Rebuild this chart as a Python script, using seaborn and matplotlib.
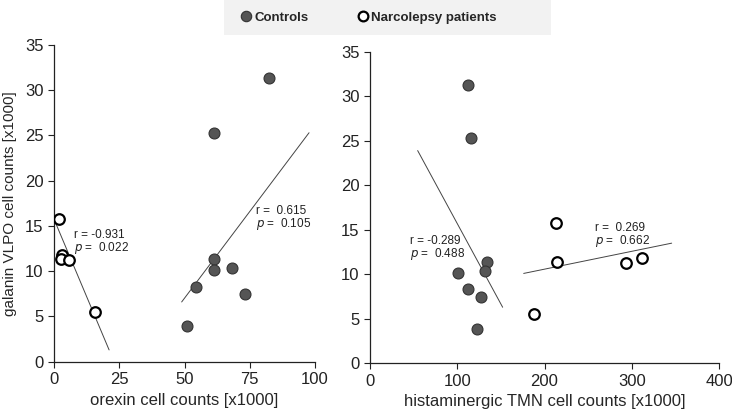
import numpy as np
import pandas as pd
import matplotlib
matplotlib.use("Agg")
import matplotlib.pyplot as plt
import seaborn as sns
from matplotlib.lines import Line2D
from matplotlib.patches import Rectangle

# Controls (filled) - same subjects in both panels
ctrl_vlpo = [31.3, 25.3, 11.4, 10.4, 10.1, 8.3, 7.45, 3.9]
ctrl_orexin = [82.5, 61.3, 61.3, 68.1, 61.3, 54.5, 73.2, 51.0]
ctrl_tmn = [112.0, 115.8, 134.5, 131.8, 100.5, 112.3, 127.6, 122.2]

# Narcolepsy patients (open)
narc_vlpo = [15.75, 11.8, 11.35, 11.25, 5.5]
narc_orexin = [1.8, 3.2, 2.8, 5.7, 15.7]
narc_tmn = [212.8, 311.4, 214.7, 293.0, 187.6]

# fitted lines: [x_start, x_end], [y_start, y_end]
fit_orexin_narc = ([0.8, 21.1], [15.2, 1.3])
fit_orexin_ctrl = ([48.9, 97.7], [6.6, 25.3])
fit_tmn_ctrl = ([54.6, 152.0], [23.9, 6.3])
fit_tmn_narc = ([176.1, 345.7], [10.1, 13.5])

# stats labels
stats_orexin = [("-0.931", "0.022"), ("0.615", "0.105")]
stats_tmn = [("-0.289", "0.488"), ("0.269", "0.662")]

sns.set_style("ticks")
plt.rcParams["font.family"] = ["Liberation Sans", "DejaVu Sans"]

fill_col = "#555555"

fig = plt.figure(figsize=(7.32, 4.11), dpi=100)
ax1 = fig.add_axes([0.0738, 0.120, 0.3566, 0.7706])
ax2 = fig.add_axes([0.5055, 0.116, 0.4768, 0.758])


def draw_panel(ax, x_ctrl, x_narc, fits, stats, stat_pos, xlim, xticks, xlabel):
    for fx, fy in fits:
        sns.lineplot(x=fx, y=fy, ax=ax, color="#444444", lw=0.7)
    sns.scatterplot(x=x_ctrl, y=ctrl_vlpo, ax=ax, s=62, color=fill_col,
                    edgecolor="#333333", linewidth=0.8, zorder=3)
    sns.scatterplot(x=x_narc, y=narc_vlpo, ax=ax, s=58, color="white",
                    edgecolor="black", linewidth=1.6, zorder=3)
    for (r, p), (tx, ty) in zip(stats, stat_pos):
        ax.text(tx, ty, f"r = {r}" if r.startswith("-") else f"r =  {r}",
                fontsize=8.5, color="#222222", va="center")
        ax.text(tx, ty - 1.45, "$\\it{p}$ =  " + p, fontsize=8.5,
                color="#222222", va="center")
    ax.set_xlim(*xlim)
    ax.set_ylim(0, 35)
    ax.set_xticks(xticks)
    ax.set_yticks(range(0, 36, 5))
    ax.set_xlabel(xlabel, fontsize=12, labelpad=4)
    ax.tick_params(labelsize=12, direction="out", length=4, width=0.8, colors="#222222")
    for sp in ["top", "right"]:
        ax.spines[sp].set_visible(False)
    for sp in ["left", "bottom"]:
        ax.spines[sp].set_color("#222222")
        ax.spines[sp].set_linewidth(0.9)


draw_panel(ax1, ctrl_orexin, narc_orexin, [fit_orexin_narc, fit_orexin_ctrl],
           stats_orexin, [(7.7, 14.0), (77.4, 16.65)], (0, 100),
           [0, 25, 50, 75, 100], "orexin cell counts [x1000]")
draw_panel(ax2, ctrl_tmn, narc_tmn, [fit_tmn_ctrl, fit_tmn_narc],
           stats_tmn, [(45.8, 13.75), (257.9, 15.2)], (0, 400),
           [0, 100, 200, 300, 400], "histaminergic TMN cell counts [x1000]")
ax1.set_ylabel("galanin VLPO cell counts [x1000]", fontsize=11, labelpad=6)
ax2.set_ylabel("")

# grey legend strip on top
fig.patches.append(Rectangle((224 / 732, 1 - 35 / 411), 327 / 732, 35 / 411,
                             transform=fig.transFigure, facecolor="#f2f2f2",
                             edgecolor="none", zorder=0))
handles = [
    Line2D([], [], marker="o", ls="", markersize=7.5, markerfacecolor=fill_col,
           markeredgecolor="#333333", markeredgewidth=0.8, label="Controls"),
    Line2D([], [], marker="o", ls="", markersize=7, markerfacecolor="white",
           markeredgecolor="black", markeredgewidth=1.6, label="Narcolepsy patients"),
]
leg = fig.legend(handles=handles, loc="center", bbox_to_anchor=(0.503, 0.957),
                 ncol=2, frameon=False, prop={"weight": "bold", "size": 9.5},
                 handletextpad=0.15, columnspacing=3.6, handlelength=1.0)

fig.savefig("out.png", dpi=100)
